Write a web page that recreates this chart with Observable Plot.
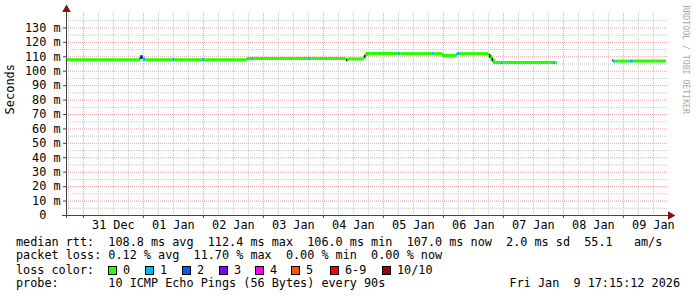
<!DOCTYPE html>
<html><head><meta charset="utf-8">
<script src="https://cdn.jsdelivr.net/npm/d3@7"></script>
<script src="https://cdn.jsdelivr.net/npm/@observablehq/plot@0.6"></script>
<style>
body{margin:0;background:#fff;}
#wrap{position:relative;width:697px;height:297px;background:#fff;overflow:hidden;font-family:"DejaVu Sans Mono",monospace;font-size:11.8px;color:#000;}
#wrap svg{position:absolute;left:0;top:0;}
.ln{position:absolute;white-space:pre;line-height:14px;}
.sq{position:absolute;width:7px;height:7px;border:1px solid #000;}
</style></head><body><div id="wrap"></div>
<script>
// ---------- data ----------
const stepTimes = ["2025-12-30T17:15","2025-12-31T23:00","2026-01-01T00:00","2026-01-01T01:00","2026-01-01T11:30","2026-01-01T12:30","2026-01-01T23:30","2026-01-02T00:30","2026-01-02T17:36","2026-01-02T19:20","2026-01-02T20:20","2026-01-03T18:00","2026-01-03T19:00","2026-01-04T09:12","2026-01-04T10:00","2026-01-04T16:24","2026-01-04T17:12","2026-01-05T06:00","2026-01-05T07:00","2026-01-05T19:20","2026-01-05T20:20","2026-01-05T23:36","2026-01-06T05:36","2026-01-06T06:48","2026-01-06T18:00","2026-01-06T19:00","2026-01-06T20:00","2026-01-06T23:00","2026-01-07T00:00","2026-01-07T20:00","2026-01-07T21:00","2026-01-07T21:36","2026-01-08T20:00","2026-01-08T21:00","2026-01-09T02:40","2026-01-09T04:00"];
const medianMs = [108.0,109.5,108.0,108.0,108.0,108.0,108.0,108.0,108.8,108.8,108.8,108.8,108.8,107.6,108.5,110.0,112.2,112.2,112.2,112.2,112.2,110.9,112.2,112.2,110.8,108.5,106.0,106.0,106.0,106.0,106.0,NaN,107.0,107.0,107.0,107.0];
const lossLevel = [0,2,1,0,1,0,1,0,0,1,0,1,0,0,0,0,0,1,0,1,0,0,1,0,0,0,0,1,0,1,0,null,1,0,1,0];
const endTime = "2026-01-09T17:15";

const smokeStart = ["2025-12-31T23:00","2026-01-04T09:12","2026-01-04T16:24","2026-01-06T18:30","2026-01-06T19:30","2026-01-08T19:36"];
const smokeEnd   = ["2025-12-31T23:48","2026-01-04T09:48","2026-01-04T17:00","2026-01-06T19:00","2026-01-06T20:00","2026-01-08T20:00"];
const smokeLo    = [108.5,106.9,109.0,109.0,106.5,106.6];
const smokeHi    = [110.8,108.0,111.0,111.6,109.0,107.8];

const lossLabels = ["0","1","2","3","4","5","6-9","10/10"];
const lossColors = ["#26ff00","#00b8ff","#0059ff","#7e00ff","#ff00ff","#ff5500","#ff0000","#a10000"];

const yMajorTicks = [0,10,20,30,40,50,60,70,80,90,100,110,120,130];
const yMinorTicks = [5,15,25,35,45,55,65,75,85,95,105,115,125,135];
const xMidnights = ["2025-12-31","2026-01-01","2026-01-02","2026-01-03","2026-01-04","2026-01-05","2026-01-06","2026-01-07","2026-01-08","2026-01-09"];
const xTickLabels = ["31 Dec","01 Jan","02 Jan","03 Jan","04 Jan","05 Jan","06 Jan","07 Jan","08 Jan","09 Jan"];

const rttValues = ["108.8","112.4","106.0","107.0","2.0"];
const rttNames = ["avg","max","min","now","sd"];
const amPerSec = "55.1";
const lossValues = ["0.12","11.70","0.00","0.00"];
const lossNames = ["avg","max","min","now"];
const probeText = "10 ICMP Echo Pings (56 Bytes) every 90s";
const stampText = "Fri Jan  9 17:15:12 2026";

// ---------- build ----------
const D = s => new Date(s + (s.length <= 10 ? "T00:00Z" : "Z"));
const tStart = D(stepTimes[0]), tEnd = D(endTime);
const hSegs = [], vSegs = [];
for (let i = 0; i < stepTimes.length; i++) {
  const t1 = D(stepTimes[i]);
  const t2 = i + 1 < stepTimes.length ? D(stepTimes[i+1]) : tEnd;
  const v = medianMs[i];
  if (isNaN(v)) continue;
  hSegs.push({x1: t1, x2: t2, y: v, c: lossColors[lossLevel[i]]});
  if (i > 0 && !isNaN(medianMs[i-1]) && medianMs[i-1] !== v)
    vSegs.push({x: t1, y1: medianMs[i-1], y2: v, c: lossColors[lossLevel[i]]});
}
const smoke = smokeStart.map((s, i) => ({x1: D(s), x2: D(smokeEnd[i]), y1: smokeLo[i], y2: smokeHi[i]}));
const mids = xMidnights.map(D);
const minors = [];
for (let t = +D("2025-12-30T18:00"); t <= +tEnd; t += 6*3600e3) if (new Date(t).getUTCHours() !== 0) minors.push(new Date(t));
const noons = mids.map(d => new Date(+d + 12*3600e3));

const axisColor = "#444";
const plot = Plot.plot({
  width: 697, height: 232,
  marginLeft: 66, marginRight: 31, marginTop: 13, marginBottom: 17,
  style: {fontFamily: "DejaVu Sans Mono, monospace", fontSize: "11.8px", color: "#000", background: "transparent"},
  x: {type: "utc", domain: [tStart, tEnd], label: null},
  y: {domain: [0, 140], label: null},
  marks: [
    Plot.ruleY(yMinorTicks, {stroke: "#c8c8c8", strokeDasharray: "1,1", insetRight: -2}),
    Plot.ruleX(minors, {stroke: "#c8c8c8", strokeDasharray: "1,1"}),
    Plot.ruleY(yMajorTicks.filter(d => d > 0), {stroke: "#eaa0a0", strokeDasharray: "1,1", insetRight: -2}),
    Plot.ruleX(mids, {stroke: "#eaa0a0", strokeDasharray: "1,1"}),
    Plot.ruleY(hSegs, {x1: "x1", x2: "x2", y: "y", stroke: "c", strokeWidth: 3}),
    Plot.ruleX(vSegs, {x: "x", y1: "y1", y2: "y2", stroke: "c", strokeWidth: 3}),
    Plot.rect(smoke, {x1: "x1", x2: "x2", y1: "y1", y2: "y2", fill: "#1a1a1a"}),
    Plot.axisY(yMajorTicks, {tickSize: 3, tickPadding: 3, stroke: axisColor, fill: "#000", label: null,
      tickFormat: d => d === 0 ? "0\u00a0\u00a0" : d + " m"}),
    Plot.axisX(mids, {tickSize: 3, stroke: axisColor, tickFormat: () => "", label: null}),
    Plot.axisX(noons, {tickSize: 0, tickPadding: 5, fill: "#000", label: null, tickFormat: (d, i) => xTickLabels[i]}),
    Plot.ruleX([tStart], {stroke: axisColor, insetTop: -4, insetBottom: -3}),
    Plot.ruleY([0], {stroke: axisColor, insetLeft: -4, insetRight: -3}),
    Plot.dot([0], {frameAnchor: "top-left", dy: -4, symbol: "triangle", r: 3.2, fill: "#8b1010", stroke: null}),
    Plot.dot([0], {frameAnchor: "bottom-right", dx: 4, rotate: 90, symbol: "triangle", r: 3.2, fill: "#8b1010", stroke: null}),
    Plot.text(["Seconds"], {frameAnchor: "left", dx: -56, rotate: -90, fontSize: 12, fill: "#000"}),
    Plot.text(["RRDTOOL / TOBI OETIKER"], {frameAnchor: "top-right", dx: 22, dy: -8, rotate: 90, textAnchor: "start", fontSize: 8.2, fill: "#a8a8a8"})
  ]
});
const wrap = document.getElementById("wrap");
wrap.appendChild(plot);

function line(text, left, top, extra) {
  const d = document.createElement("div");
  d.className = "ln"; d.textContent = text;
  d.style.top = top + "px";
  if (left != null) d.style.left = left + "px";
  if (extra) Object.assign(d.style, extra);
  wrap.appendChild(d);
}
const row1 = "median rtt:  " + rttValues.map((v, i) => v + " ms " + rttNames[i]).join("  ") + "  " + amPerSec + "   am/s";
const row2 = "packet loss: " + lossValues.map((v, i) => v + " % " + lossNames[i]).join("  ");
line(row1, 16, 234.5);
line(row2, 16, 248);
line("loss color:", 16, 262.5);
const sqX = [108, 145, 182, 219, 255, 291, 330, 382];
lossLabels.forEach((lab, i) => {
  const s = document.createElement("div");
  s.className = "sq"; s.style.left = sqX[i] + "px"; s.style.top = "265.5px"; s.style.background = lossColors[i];
  wrap.appendChild(s);
  line(lab, sqX[i] + 15, 262.5);
});
line("probe:       " + probeText, 16, 276);
line(stampText, null, 276, {right: "17px"});
</script></body></html>
